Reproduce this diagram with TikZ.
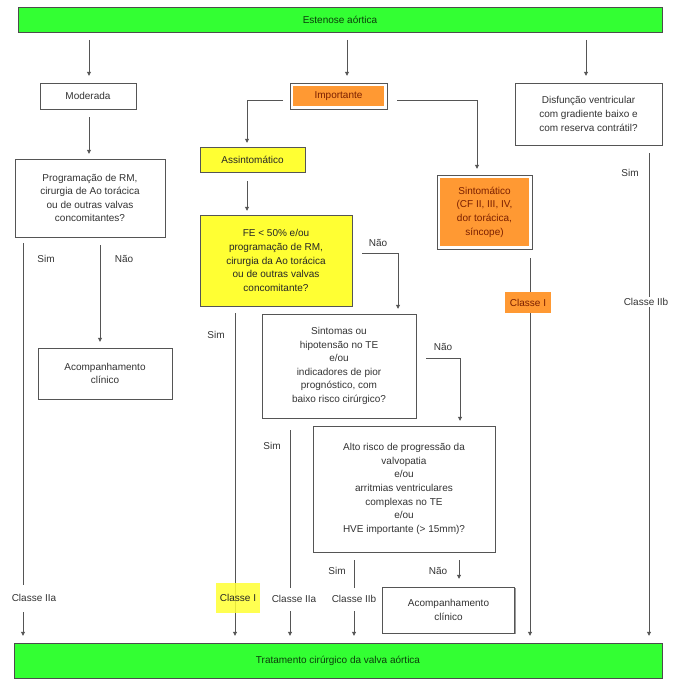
\documentclass[tikz,border=0pt]{standalone}
\usepackage{fontspec}
\setmainfont{Liberation Sans}
\usetikzlibrary{arrows.meta,shadows}
\definecolor{gfill}{HTML}{33FF33}
\definecolor{yfill}{HTML}{FFFF33}
\definecolor{ofill}{HTML}{FF9933}
\definecolor{lnc}{HTML}{555555}
\definecolor{txtc}{HTML}{333333}
\definecolor{otxt}{HTML}{7A1F00}
\definecolor{gtxt}{HTML}{0B3D0B}
\begin{document}
\begin{tikzpicture}[x=1pt,y=-1pt,
  font=\fontsize{10}{13.6}\selectfont,
  shd/.style={drop shadow={shadow xshift=1.2pt,shadow yshift=-1.2pt,fill=black!40,opacity=1}},
  wbox/.style={draw=lnc,fill=white,shd,align=center,inner sep=0pt,text=txtc},
  ybox/.style={draw=lnc,fill=yfill,shd,align=center,inner sep=0pt,text=black!85},
  gbar/.style={draw=black!70,fill=gfill,shd,align=center,inner sep=0pt,text=gtxt},
  obox/.style={draw=lnc,fill=white,shd,align=center,inner sep=0pt,text=otxt,
    path picture={\fill[ofill] ([shift={(3pt,-3pt)}]path picture bounding box.north west) rectangle ([shift={(-3pt,3pt)}]path picture bounding box.south east);}},
  lbl/.style={text=txtc,inner sep=1pt},
  clbl/.style={text=txtc,fill=white,inner sep=1.5pt},
  arr/.style={draw=lnc,line width=0.8pt,-{Triangle[length=4pt,width=4pt]}},
  ln/.style={draw=lnc,line width=0.8pt}]
\useasboundingbox (0,0) rectangle (677,685);

% boxes
\node[gbar,minimum width=644pt,minimum height=25pt] (top) at (340,19.5) {Estenose aórtica};
\node[gbar,minimum width=648pt,minimum height=35pt] (bot) at (338,660.5) {Tratamento cirúrgico da valva aórtica};
\node[wbox,minimum width=96pt,minimum height=26pt] (mod) at (88,96) {Moderada};
\node[obox,minimum width=97pt,minimum height=26pt] (imp) at (338.5,96) {Importante};
\node[wbox,minimum width=147pt,minimum height=62pt] (disf) at (588.5,114) {Disfunção ventricular\\com gradiente baixo e\\com reserva contrátil?};
\node[ybox,minimum width=105pt,minimum height=25pt] (ass) at (252.5,159.5) {Assintomático};
\node[wbox,minimum width=150pt,minimum height=78pt] (prog) at (90,198) {Programação de RM,\\cirurgia de Ao torácica\\ou de outras valvas\\concomitantes?};
\node[obox,minimum width=95pt,minimum height=74pt] (sint) at (484.5,212) {Sintomático\\(CF II, III, IV,\\dor torácica,\\síncope)};
\node[ybox,minimum width=152pt,minimum height=91pt] (fe) at (276,260.5) {FE < 50\% e/ou\\programação de RM,\\cirurgia da Ao torácica\\ou de outras valvas\\concomitante?};
\node[wbox,minimum width=154pt,minimum height=104pt] (sintom) at (339,366) {Sintomas ou\\hipotensão no TE\\e/ou\\indicadores de pior\\prognóstico, com\\baixo risco cirúrgico?};
\node[wbox,minimum width=134pt,minimum height=51pt] (acl) at (105,373.5) {Acompanhamento\\clínico};
\node[wbox,minimum width=182pt,minimum height=126pt] (alto) at (404,489) {Alto risco de progressão da\\valvopatia\\e/ou\\arritmias ventriculares\\complexas no TE\\e/ou\\HVE importante (> 15mm)?};
\node[wbox,minimum width=132pt,minimum height=46pt] (acr) at (448.5,610) {Acompanhamento\\clínico};

% top arrows
\coordinate (t1) at (89,40);
\coordinate (t2) at (347,40);
\coordinate (t3) at (586,40);
\draw[arr] (t1) -- ([yshift=7pt]t1 |- mod.north);
\draw[arr] (t2) -- ([yshift=7pt]t2 |- imp.north);
\draw[arr] (t3) -- ([yshift=7pt]t3 |- disf.north);

% importante branches
\coordinate (il) at (283,100);
\coordinate (ir) at (397,100);
\coordinate (ax) at (247,0);
\coordinate (sx) at (477,0);
\draw[arr] (il) -| ([yshift=4pt]ax |- ass.north);
\draw[arr] (ir) -| ([yshift=6pt]sx |- sint.north);

% moderada
\coordinate (m0) at (89,117);
\draw[arr] (m0) -- ([yshift=5pt]m0 |- prog.north);
% assintomatico
\coordinate (a0) at (247,181);
\draw[arr] (a0) -- ([yshift=4pt]a0 |- fe.north);

% prog branches
\coordinate (ps) at (23,243);
\coordinate (pn) at (100,245);
\draw[ln] (ps) -- (23,585);
\draw[arr] (23,612) -- ([yshift=7pt]ps |- bot.north);
\node[clbl] (cl1) at (34,598) {Classe IIa};
\node[lbl] at (46,259) {Sim};
\node[lbl] at (124,259) {Não};
\draw[arr] (pn) -- ([yshift=6pt]pn |- acl.north);

% disf
\coordinate (ds) at (649,153);
\draw[arr] (ds) -- ([yshift=7pt]ds |- bot.north);
\node[lbl] at (630,173) {Sim};
\node[clbl] (cl2) at (646,302) {Classe IIb};

% sintomatico
\coordinate (ss) at (530,258);
\draw[arr] (ss) -- ([yshift=7pt]ss |- bot.north);
\node[fill=ofill,text=otxt,minimum width=46pt,minimum height=21pt,inner sep=0pt] (c1o) at (528,302.5) {Classe I};

% FE
\coordinate (fs) at (235,313);
\draw[arr] (fs) -- ([yshift=7pt]fs |- bot.north);
\node[lbl] at (216,335) {Sim};
\node[fill=yfill,fill opacity=0.85,text opacity=1,text=black!85,minimum width=44pt,minimum height=30pt,inner sep=0pt] (c1y) at (238,598) {Classe I};
\coordinate (fn) at (362,253);
\coordinate (fx) at (398,0);
\draw[arr] (fn) -| ([yshift=5pt]fx |- sintom.north);
\node[lbl] at (378,243) {Não};

% sintomas
\coordinate (sms) at (290,430);
\draw[ln] (sms) -- (290,588);
\draw[arr] (290,611) -- ([yshift=7pt]sms |- bot.north);
\node[lbl] at (272,446) {Sim};
\node[lbl] (cl3) at (294,599) {Classe IIa};
\coordinate (smn) at (426,358);
\coordinate (smx) at (460,0);
\draw[arr] (smn) -| ([yshift=5pt]smx |- alto.north);
\node[lbl] at (443,347) {Não};

% alto
\coordinate (as) at (354,560);
\draw[ln] (as) -- (354,588);
\draw[arr] (354,611) -- ([yshift=7pt]as |- bot.north);
\node[lbl] at (337,571) {Sim};
\node[lbl] (cl4) at (354,599) {Classe IIb};
\coordinate (an) at (459,560);
\draw[arr] (an) -- ([yshift=8pt]an |- acr.north);
\node[lbl] at (438,571) {Não};
\end{tikzpicture}
\end{document}
